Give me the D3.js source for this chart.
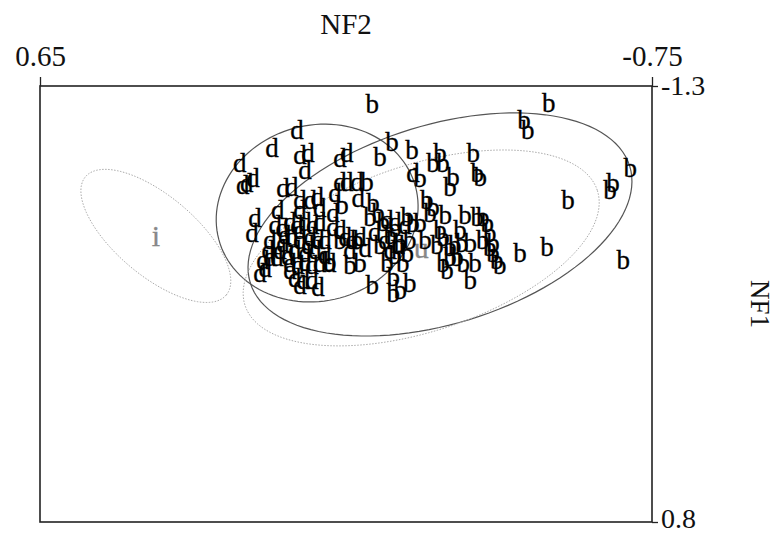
<!DOCTYPE html>
<html>
<head>
<meta charset="utf-8">
<script src="https://cdn.jsdelivr.net/npm/d3@7"></script>
<style>
  body { margin: 0; background: #fff; }
  svg text { font-family: "Liberation Serif", "Times New Roman", serif; }
</style>
</head>
<body>
<div id="chart"></div>
<script>
// axis ranges and tick labels
var nf2Ticks = [0.65, -0.75];
var nf1Ticks = [-1.3, 0.8];

// group "b" individuals: NF2, NF1
var bNF2 = [-0.110, -0.514, -0.457, -0.466, -0.155, -0.128, -0.201, -0.265, -0.341, -0.249,
            -0.272, -0.295, -0.350, -0.357, -0.288, -0.219, -0.098, -0.041, -0.105, -0.123,
            -0.112, -0.700, -0.661, -0.654, -0.558, -0.684, -0.510, -0.448, -0.235, -0.249,
            -0.242, -0.350, -0.363, -0.373, -0.379, -0.386, -0.265, -0.272, -0.288, -0.288,
            -0.304, -0.318, -0.334, -0.272, -0.281, -0.363, -0.379, -0.386, -0.395, -0.402,
            -0.334, -0.190, -0.203, -0.219, -0.174, -0.190, -0.180, -0.196, -0.174, -0.158,
            -0.110, -0.059, -0.082, -0.144, -0.158, -0.128, -0.151, -0.075, -0.036, -0.013,
            -0.135, -0.162, -0.231, -0.315, -0.299, -0.277, -0.311, -0.258, -0.345, -0.162,
            -0.196, -0.322];
var bNF1 = [-1.213, -1.218, -1.136, -1.088, -1.030, -0.958, -0.992, -0.977, -0.977, -0.929,
            -0.929, -0.862, -0.881, -0.862, -0.814, -0.857, -0.838, -0.727, -0.669, -0.688,
            -0.736, -0.905, -0.833, -0.799, -0.751, -0.462, -0.525, -0.496, -0.751, -0.717,
            -0.688, -0.669, -0.669, -0.640, -0.592, -0.544, -0.606, -0.573, -0.525, -0.476,
            -0.476, -0.447, -0.366, -0.447, -0.414, -0.558, -0.525, -0.496, -0.462, -0.438,
            -0.544, -0.669, -0.640, -0.640, -0.544, -0.496, -0.447, -0.351, -0.317, -0.303,
            -0.342, -0.438, -0.447, -0.447, -0.380, -0.534, -0.582, -0.558, -0.558, -0.452,
            -0.645, -0.616, -0.558, -0.544, -0.534, -0.679, -0.606, -0.534, -0.447, -0.486,
            -0.558, -0.679];

// group "d" individuals: NF2, NF1
var dNF2 = [0.062, 0.119, 0.193, 0.055, 0.037, 0.044, -0.036, -0.052, 0.177, 0.163,
            0.094, 0.074, -0.036, -0.052, -0.075, 0.055, 0.032, 0.016, -0.025, -0.078,
            0.158, 0.165, 0.106, 0.112, 0.096, 0.078, 0.062, 0.044, 0.026, 0.010,
            0.074, 0.055, 0.032, 0.014, 0.067, 0.044, 0.021, -0.020, -0.020, -0.048,
            -0.064, -0.082, -0.059, -0.094, 0.140, 0.124, 0.108, 0.147, 0.135, 0.078,
            0.060, 0.044, 0.028, 0.010, 0.067, 0.048, 0.028, 0.014, -0.013, -0.144,
            -0.162, -0.185, -0.151, -0.169, -0.139, -0.116, -0.036, 0.094, 0.083, -0.002,
            -0.203, 0.055, 0.010, 0.124, 0.186, 0.090, 0.055, 0.037, 0.078, 0.055,
            0.101, -0.002, 0.128];
var dNF1 = [-1.088, -1.001, -0.929, -0.968, -0.977, -0.895, -0.953, -0.977, -0.833, -0.857,
            -0.809, -0.814, -0.838, -0.838, -0.838, -0.751, -0.751, -0.765, -0.785, -0.761,
            -0.664, -0.592, -0.703, -0.631, -0.616, -0.645, -0.631, -0.645, -0.631, -0.645,
            -0.573, -0.558, -0.573, -0.558, -0.510, -0.496, -0.510, -0.621, -0.688, -0.573,
            -0.558, -0.573, -0.510, -0.520, -0.462, -0.476, -0.476, -0.399, -0.423, -0.447,
            -0.438, -0.452, -0.438, -0.447, -0.375, -0.366, -0.366, -0.332, -0.447, -0.655,
            -0.645, -0.631, -0.510, -0.534, -0.558, -0.597, -0.606, -0.544, -0.481, -0.558,
            -0.881, -0.703, -0.712, -0.558, -0.823, -0.582, -0.606, -0.534, -0.414, -0.342,
            -0.510, -0.486, -0.510];

// class ellipses: centre and two conjugate semi-axes (NF2, NF1)
var classNames = ['b', 'd', 'i', 'u'];
var classCx    = [-0.265, 0.016, 0.385, -0.222];
var classCy    = [-0.633, -0.688, -0.578, -0.520];
var classUx    = [-0.434, -0.225, -0.161, -0.403];
var classUy    = [-0.281, -0.127, 0.285, -0.277];
var classVx    = [-0.067, -0.052, 0.059, -0.059];
var classVy    = [0.458, 0.409, 0.147, 0.382];
var classShown = [true, true, false, false];   // individuals plotted or not

var width = 778, height = 534;
var margin = { top: 86, right: 126, bottom: 12, left: 40 };
var serif = '"Liberation Serif", "Times New Roman", serif';

var svg = d3.select('#chart').append('svg')
	.attr('width', width)
	.attr('height', height);

var x = d3.scaleLinear().domain([nf2Ticks[0], nf2Ticks[1]]).range([margin.left, width - margin.right]);
var y = d3.scaleLinear().domain([nf1Ticks[0], nf1Ticks[1]]).range([margin.top, height - margin.bottom]);

// box
svg.append('rect')
	.attr('x', x.range()[0])
	.attr('y', y.range()[0])
	.attr('width', x.range()[1] - x.range()[0])
	.attr('height', y.range()[1] - y.range()[0])
	.attr('fill', 'none')
	.attr('stroke', '#222')
	.attr('stroke-width', 1.6);

// top axis (NF2)
var plain = function(d) { return String(d); };
var topAxis = svg.append('g')
	.attr('transform', 'translate(0,' + y.range()[0] + ')')
	.call(d3.axisTop(x).tickValues(nf2Ticks).tickSize(9).tickSizeOuter(0).tickPadding(11).tickFormat(plain));
topAxis.select('.domain').remove();
topAxis.selectAll('line').attr('stroke', '#222').attr('stroke-width', 1.3);
topAxis.selectAll('text').attr('font-size', '29px').attr('fill', '#111')
	.style('font-family', serif);

// right axis (NF1)
var rightAxis = svg.append('g')
	.attr('transform', 'translate(' + x.range()[1] + ',0)')
	.call(d3.axisRight(y).tickValues(nf1Ticks).tickSize(6).tickSizeOuter(0).tickPadding(3).tickFormat(plain));
rightAxis.select('.domain').remove();
rightAxis.selectAll('line').attr('stroke', '#222').attr('stroke-width', 1.3);
rightAxis.selectAll('text').attr('font-size', '28px').attr('fill', '#111')
	.style('font-family', serif);
rightAxis.selectAll('.tick').filter(function(d) { return d === nf1Ticks[1]; })
	.select('text').attr('dy', '0.2em');

// axis titles
svg.append('text')
	.attr('x', (x.range()[0] + x.range()[1]) / 2)
	.attr('y', 34)
	.attr('text-anchor', 'middle')
	.attr('font-size', '29px')
	.attr('fill', '#111')
	.text('NF2');

svg.append('text')
	.attr('transform', 'translate(760,' + ((y.range()[0] + y.range()[1]) / 2) + ') rotate(90)')
	.attr('text-anchor', 'middle')
	.attr('dy', '0.35em')
	.attr('font-size', '27px')
	.attr('fill', '#111')
	.text('NF1');

// ellipses
var steps = d3.range(0, 121).map(function(k) { return k / 120 * 2 * Math.PI; });
var line = d3.line()
	.x(function(p) { return x(p[0]); })
	.y(function(p) { return y(p[1]); });

classNames.forEach(function(name, i) {
	var pts = steps.map(function(t) {
		return [classCx[i] + classUx[i] * Math.cos(t) + classVx[i] * Math.sin(t),
		        classCy[i] + classUy[i] * Math.cos(t) + classVy[i] * Math.sin(t)];
	});
	svg.append('path')
		.attr('d', line(pts))
		.attr('fill', 'none')
		.attr('stroke', classShown[i] ? '#555' : '#aaa')
		.attr('stroke-width', classShown[i] ? 1.2 : 1)
		.attr('stroke-dasharray', classShown[i] ? null : '1.5,1.5');
});

// hidden-class labels in grey
classNames.forEach(function(name, i) {
	if (classShown[i]) return;
	svg.append('text')
		.attr('x', x(classCx[i]))
		.attr('y', y(classCy[i]))
		.attr('dy', '0.34em')
		.attr('text-anchor', 'middle')
		.attr('font-size', '30px')
		.attr('fill', '#888')
		.attr('stroke', '#888')
		.attr('stroke-width', 0.3)
		.text(name);
});

// individuals as letters
function drawLetters(xs, ys, label) {
	svg.append('g').selectAll('text')
		.data(xs)
		.enter()
		.append('text')
		.attr('x', function(d) { return x(d); })
		.attr('y', function(d, i) { return y(ys[i]); })
		.attr('dy', '0.34em')
		.attr('text-anchor', 'middle')
		.attr('font-size', '27px')
		.attr('fill', '#000')
		.attr('stroke', '#000')
		.attr('stroke-width', 0.3)
		.text(label);
}
drawLetters(dNF2, dNF1, 'd');
drawLetters(bNF2, bNF1, 'b');
</script>
</body>
</html>
